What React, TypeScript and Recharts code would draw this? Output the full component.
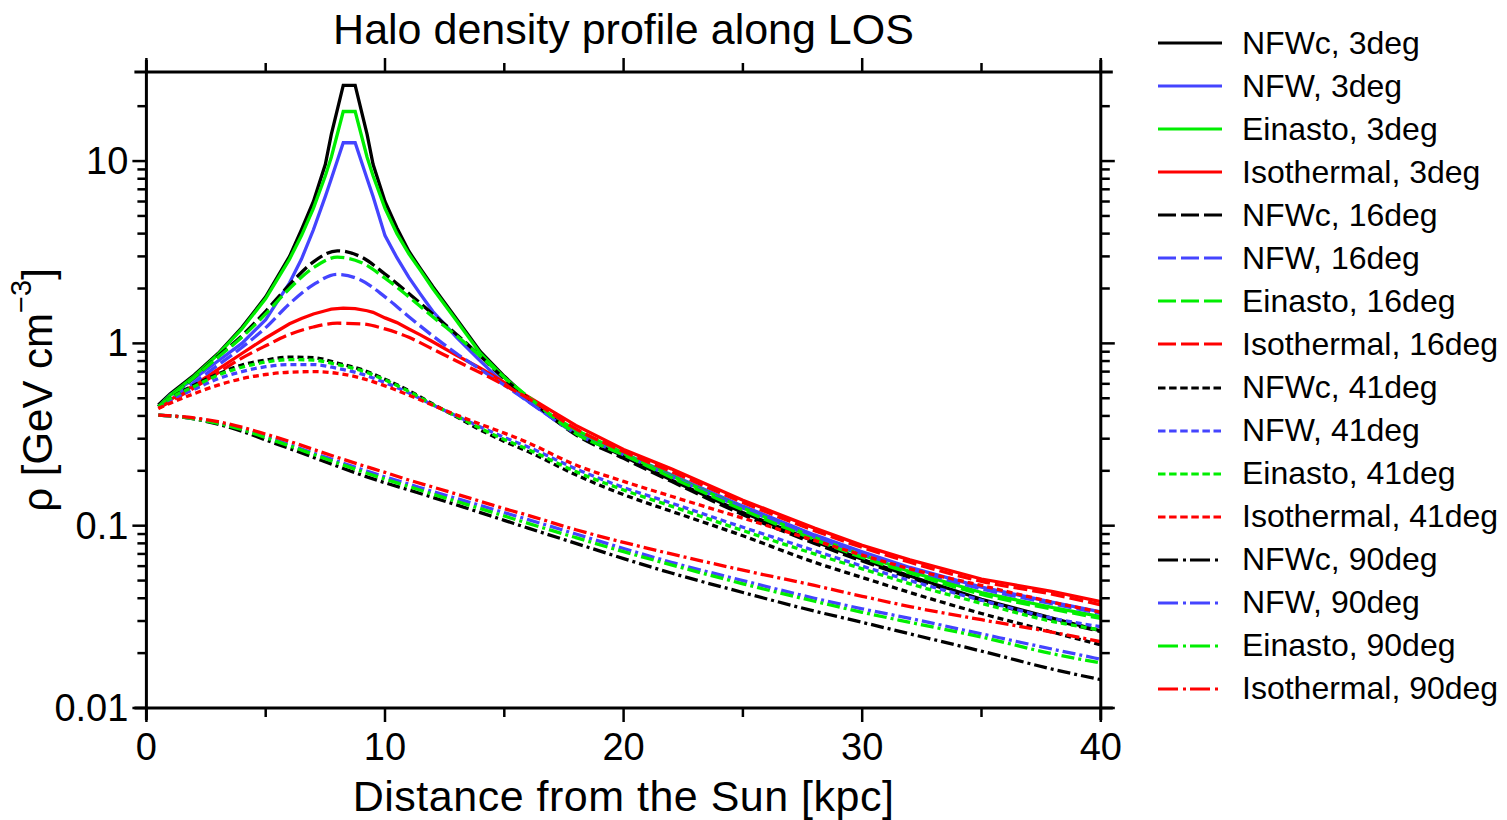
import { LineChart, Line, XAxis, YAxis } from 'recharts';

const FONT = '"Liberation Sans", Arial, sans-serif';

// distances along the line of sight [kpc]
const x3deg = [0.5, 1, 2, 3, 4, 5, 6, 6.5, 7, 7.5, 7.75, 8.25, 8.75, 9.25, 9.5, 10, 10.5, 11, 11.5, 12, 13, 14, 15, 16, 17, 18, 20, 22, 25, 28, 30, 32, 35, 38, 40];
const xWide = [0.5, 1, 2, 3, 4, 5, 6, 7, 8, 9, 10, 11, 12, 13, 14, 15, 16, 18, 20, 22, 25, 28, 30, 32, 35, 38, 40];

// density [GeV cm^-3], 3deg
const nfwc3 = [0.46, 0.53, 0.67, 0.88, 1.22, 1.8, 3.0, 4.2, 6.0, 9.6, 14, 26, 26, 14, 9.6, 6.0, 4.3, 3.2, 2.55, 2.05, 1.36, 0.9, 0.66, 0.5, 0.39, 0.32, 0.24, 0.178, 0.118, 0.082, 0.0655, 0.053, 0.0395, 0.031, 0.0265];
const nfw3 = [0.45, 0.52, 0.64, 0.8, 1.0, 1.35, 2.15, 2.9, 4.2, 6.4, 8.0, 12.6, 12.6, 8.0, 6.4, 3.9, 2.95, 2.3, 1.85, 1.5, 1.08, 0.8, 0.6, 0.48, 0.39, 0.33, 0.25, 0.19, 0.128, 0.089, 0.072, 0.059, 0.046, 0.038, 0.0337];
const ein3 = [0.45, 0.52, 0.66, 0.87, 1.2, 1.76, 2.9, 3.9, 5.5, 8.3, 10.5, 18.7, 18.7, 10.5, 8.3, 5.5, 4.0, 3.1, 2.5, 2.0, 1.33, 0.88, 0.65, 0.5, 0.4, 0.335, 0.25, 0.188, 0.125, 0.086, 0.069, 0.056, 0.043, 0.0355, 0.0317];
const iso3 = [0.45, 0.49, 0.59, 0.72, 0.88, 1.07, 1.28, 1.37, 1.45, 1.51, 1.54, 1.56, 1.55, 1.51, 1.48, 1.38, 1.3, 1.2, 1.11, 1.02, 0.86, 0.73, 0.61, 0.51, 0.425, 0.355, 0.262, 0.205, 0.138, 0.097, 0.078, 0.065, 0.051, 0.0435, 0.0383];

// 16deg
const nfwc16 = [0.45, 0.51, 0.65, 0.85, 1.1, 1.5, 2.1, 2.8, 3.22, 2.98, 2.4, 1.88, 1.45, 1.12, 0.85, 0.64, 0.5, 0.315, 0.234, 0.175, 0.115, 0.08, 0.064, 0.052, 0.039, 0.0305, 0.0262];
const nfw16 = [0.45, 0.5, 0.61, 0.76, 0.95, 1.22, 1.65, 2.1, 2.39, 2.22, 1.8, 1.4, 1.1, 0.88, 0.72, 0.59, 0.48, 0.32, 0.245, 0.186, 0.125, 0.087, 0.07, 0.058, 0.045, 0.0372, 0.033];
const ein16 = [0.45, 0.51, 0.65, 0.84, 1.08, 1.45, 2.0, 2.6, 2.97, 2.78, 2.28, 1.8, 1.4, 1.1, 0.85, 0.65, 0.51, 0.32, 0.245, 0.184, 0.122, 0.084, 0.067, 0.055, 0.042, 0.0348, 0.031];
const iso16 = [0.44, 0.48, 0.57, 0.69, 0.83, 0.97, 1.12, 1.23, 1.29, 1.28, 1.2, 1.08, 0.93, 0.8, 0.69, 0.59, 0.5, 0.34, 0.255, 0.198, 0.134, 0.094, 0.076, 0.063, 0.0495, 0.042, 0.0368];

// 41deg
const nfwc41 = [0.45, 0.5, 0.59, 0.68, 0.76, 0.81, 0.84, 0.835, 0.78, 0.72, 0.635, 0.55, 0.465, 0.395, 0.335, 0.29, 0.255, 0.19, 0.148, 0.12, 0.088, 0.063, 0.052, 0.043, 0.033, 0.026, 0.0222];
const nfw41 = [0.45, 0.49, 0.56, 0.64, 0.7, 0.745, 0.765, 0.765, 0.73, 0.68, 0.61, 0.535, 0.46, 0.4, 0.348, 0.305, 0.27, 0.205, 0.162, 0.133, 0.098, 0.073, 0.06, 0.05, 0.039, 0.031, 0.0279];
const ein41 = [0.45, 0.5, 0.58, 0.67, 0.74, 0.79, 0.815, 0.81, 0.765, 0.71, 0.63, 0.545, 0.462, 0.398, 0.342, 0.297, 0.262, 0.198, 0.157, 0.128, 0.094, 0.07, 0.058, 0.048, 0.0375, 0.0298, 0.0268];
const iso41 = [0.44, 0.47, 0.53, 0.59, 0.64, 0.675, 0.695, 0.7, 0.685, 0.645, 0.585, 0.52, 0.458, 0.405, 0.36, 0.322, 0.285, 0.215, 0.175, 0.145, 0.11, 0.083, 0.069, 0.058, 0.047, 0.038, 0.0335];

// 90deg
const nfwc90 = [0.404, 0.4, 0.385, 0.36, 0.33, 0.295, 0.265, 0.237, 0.212, 0.19, 0.172, 0.157, 0.143, 0.13, 0.118, 0.107, 0.097, 0.08, 0.066, 0.055, 0.043, 0.034, 0.0295, 0.0255, 0.0205, 0.0163, 0.0143];
const nfw90 = [0.404, 0.4, 0.387, 0.367, 0.34, 0.308, 0.278, 0.25, 0.226, 0.204, 0.185, 0.169, 0.154, 0.141, 0.129, 0.118, 0.108, 0.09, 0.075, 0.063, 0.05, 0.04, 0.035, 0.031, 0.0255, 0.021, 0.0185];
const ein90 = [0.404, 0.4, 0.386, 0.364, 0.337, 0.304, 0.274, 0.246, 0.221, 0.199, 0.18, 0.164, 0.149, 0.136, 0.124, 0.113, 0.103, 0.086, 0.072, 0.061, 0.048, 0.0385, 0.0335, 0.0295, 0.0245, 0.0198, 0.0177];
const iso90 = [0.404, 0.401, 0.39, 0.372, 0.347, 0.318, 0.29, 0.262, 0.237, 0.215, 0.196, 0.178, 0.163, 0.149, 0.136, 0.124, 0.114, 0.095, 0.081, 0.07, 0.057, 0.047, 0.041, 0.036, 0.0305, 0.026, 0.0231];

const xTicks = [0, 5, 10, 15, 20, 25, 30, 35, 40];
const xTickLabels = ['0', '', '10', '', '20', '', '30', '', '40'];
const yTicks = [0.01, 0.02, 0.03, 0.04, 0.05, 0.06, 0.07, 0.08, 0.09, 0.1, 0.2, 0.3, 0.4, 0.5, 0.6, 0.7, 0.8, 0.9, 1, 2, 3, 4, 5, 6, 7, 8, 9, 10, 20, 30.8];
const yMajor = [0.01, 0.1, 1, 10];
const yMajorLabels = ['0.01', '0.1', '1', '10'];
const Y_MIN = 0.01;
const Y_MAX = 30.8;

const BLACK = '#000000';
const BLUE = '#4444ff';
const GREEN = '#00ee00';
const RED = '#ff0000';

type Style = 'solid' | 'dashed' | 'dotted' | 'dashdot';
const plotDash: Record<Style, string | undefined> = {
  solid: undefined,
  dashed: '14 5',
  dotted: '6 4',
  dashdot: '13 4 3 4',
};
const legendDash: Record<Style, string | undefined> = {
  solid: undefined,
  dashed: '18 5',
  dotted: '7.5 3.6',
  dashdot: '20 5 3 4',
};

const series = [
  { name: 'NFWc, 3deg', xs: x3deg, ys: nfwc3, color: BLACK, style: 'solid' as Style },
  { name: 'NFW, 3deg', xs: x3deg, ys: nfw3, color: BLUE, style: 'solid' as Style },
  { name: 'Einasto, 3deg', xs: x3deg, ys: ein3, color: GREEN, style: 'solid' as Style },
  { name: 'Isothermal, 3deg', xs: x3deg, ys: iso3, color: RED, style: 'solid' as Style },
  { name: 'NFWc, 16deg', xs: xWide, ys: nfwc16, color: BLACK, style: 'dashed' as Style },
  { name: 'NFW, 16deg', xs: xWide, ys: nfw16, color: BLUE, style: 'dashed' as Style },
  { name: 'Einasto, 16deg', xs: xWide, ys: ein16, color: GREEN, style: 'dashed' as Style },
  { name: 'Isothermal, 16deg', xs: xWide, ys: iso16, color: RED, style: 'dashed' as Style },
  { name: 'NFWc, 41deg', xs: xWide, ys: nfwc41, color: BLACK, style: 'dotted' as Style },
  { name: 'NFW, 41deg', xs: xWide, ys: nfw41, color: BLUE, style: 'dotted' as Style },
  { name: 'Einasto, 41deg', xs: xWide, ys: ein41, color: GREEN, style: 'dotted' as Style },
  { name: 'Isothermal, 41deg', xs: xWide, ys: iso41, color: RED, style: 'dotted' as Style },
  { name: 'NFWc, 90deg', xs: xWide, ys: nfwc90, color: BLACK, style: 'dashdot' as Style },
  { name: 'NFW, 90deg', xs: xWide, ys: nfw90, color: BLUE, style: 'dashdot' as Style },
  { name: 'Einasto, 90deg', xs: xWide, ys: ein90, color: GREEN, style: 'dashdot' as Style },
  { name: 'Isothermal, 90deg', xs: xWide, ys: iso90, color: RED, style: 'dashdot' as Style },
];

const EXT = 12; // frame lines run a little past the corners
const isMajorY = (v: number) => yMajor.some((m) => Math.abs(m - v) < 1e-9);

function BottomTick(props: any) {
  const { x, y, payload } = props;
  const v = payload.value;
  const label = xTickLabels[xTicks.indexOf(v)];
  const major = label !== '';
  return (
    <g>
      <line x1={x} y1={y} x2={x} y2={y + (major ? 14 : 9)} stroke="#000" strokeWidth={2.5} />
      {v === 0 && <line x1={x - EXT} y1={y} x2={x} y2={y} stroke="#000" strokeWidth={3} />}
      {v === 40 && <line x1={x} y1={y} x2={x + EXT} y2={y} stroke="#000" strokeWidth={3} />}
      {major && (
        <text x={x} y={y + 39} textAnchor="middle" dominantBaseline="central" fontSize={38} fontFamily={FONT} fill="#000">
          {label}
        </text>
      )}
    </g>
  );
}

function TopTick(props: any) {
  const { x, y, payload } = props;
  const v = payload.value;
  const major = xTickLabels[xTicks.indexOf(v)] !== '';
  return (
    <g>
      <line x1={x} y1={y} x2={x} y2={y - (major ? 14 : 9)} stroke="#000" strokeWidth={2.5} />
      {v === 0 && <line x1={x - EXT} y1={y} x2={x} y2={y} stroke="#000" strokeWidth={3} />}
      {v === 40 && <line x1={x} y1={y} x2={x + EXT} y2={y} stroke="#000" strokeWidth={3} />}
    </g>
  );
}

function LeftTick(props: any) {
  const { x, y, payload } = props;
  const v = payload.value;
  const major = isMajorY(v);
  const label = major ? yMajorLabels[yMajor.findIndex((m) => Math.abs(m - v) < 1e-9)] : '';
  const isTop = v === Y_MAX;
  return (
    <g>
      {!isTop && <line x1={x} y1={y} x2={x - (major ? 14 : 9)} y2={y} stroke="#000" strokeWidth={2.5} />}
      {v === Y_MIN && <line x1={x} y1={y} x2={x} y2={y + EXT} stroke="#000" strokeWidth={3} />}
      {isTop && <line x1={x} y1={y - EXT} x2={x} y2={y} stroke="#000" strokeWidth={3} />}
      {major && (
        <text x={x - 18} y={y} textAnchor="end" dominantBaseline="central" fontSize={38} fontFamily={FONT} fill="#000">
          {label}
        </text>
      )}
    </g>
  );
}

function RightTick(props: any) {
  const { x, y, payload } = props;
  const v = payload.value;
  const major = isMajorY(v);
  const isTop = v === Y_MAX;
  return (
    <g>
      {!isTop && <line x1={x} y1={y} x2={x + (major ? 14 : 9)} y2={y} stroke="#000" strokeWidth={2.5} />}
      {v === Y_MIN && <line x1={x} y1={y} x2={x} y2={y + EXT} stroke="#000" strokeWidth={3} />}
      {isTop && <line x1={x} y1={y - EXT} x2={x} y2={y} stroke="#000" strokeWidth={3} />}
    </g>
  );
}

function XTitle(props: any) {
  const { viewBox } = props;
  const cx = viewBox.x + viewBox.width / 2;
  return (
    <text
      x={cx}
      y={viewBox.y + 88}
      textAnchor="middle"
      dominantBaseline="central"
      fontSize={43}
      letterSpacing={0.5}
      fontFamily={FONT}
      fill="#000"
    >
      Distance from the Sun [kpc]
    </text>
  );
}

function YTitle(props: any) {
  const { viewBox } = props;
  const cx = viewBox.x - 108;
  const cy = viewBox.y + viewBox.height / 2;
  return (
    <text
      x={cx}
      y={cy}
      transform={`rotate(-90, ${cx}, ${cy})`}
      textAnchor="middle"
      dominantBaseline="central"
      fontSize={42}
      fontFamily={FONT}
      fill="#000"
    >
      ρ [GeV cm
      <tspan dy={-16} fontSize={29}>−3</tspan>
      <tspan dy={16}>]</tspan>
    </text>
  );
}

function LegendBox() {
  return (
    <div style={{ position: 'absolute', left: 1158, top: 21.5, fontFamily: FONT, fontSize: 32, color: '#000' }}>
      {series.map((s) => (
        <div key={s.name} style={{ height: 43.07, display: 'flex', alignItems: 'center', whiteSpace: 'nowrap' }}>
          <svg width={84} height={10} style={{ flex: 'none' }}>
            <line x1={0} y1={5} x2={64} y2={5} stroke={s.color} strokeWidth={3} strokeDasharray={legendDash[s.style]} />
          </svg>
          <span>{s.name}</span>
        </div>
      ))}
    </div>
  );
}

export default function App() {
  return (
    <div style={{ position: 'absolute', left: 0, top: 0, width: 1507, height: 820, background: '#fff' }}>
      <div
        style={{
          position: 'absolute',
          left: 0,
          top: 6,
          width: 1247,
          textAlign: 'center',
          fontFamily: FONT,
          fontSize: 43,
          lineHeight: '46px',
          color: '#000',
        }}
      >
        Halo density profile along LOS
      </div>
      <LineChart width={1507} height={820} margin={{ top: 71, right: 405.2, bottom: 111, left: 145.4 }}>
        <XAxis
          xAxisId="bottom"
          dataKey="x"
          type="number"
          domain={[0, 40]}
          ticks={xTicks}
          interval={0}
          height={1}
          tickSize={0}
          tickMargin={0}
          tickLine={false}
          tick={<BottomTick />}
          axisLine={{ stroke: '#000', strokeWidth: 3 }}
          allowDataOverflow
          label={<XTitle />}
        />
        <XAxis
          xAxisId="top"
          orientation="top"
          dataKey="x"
          type="number"
          domain={[0, 40]}
          ticks={xTicks}
          interval={0}
          height={1}
          tickSize={0}
          tickMargin={0}
          tickLine={false}
          tick={<TopTick />}
          axisLine={{ stroke: '#000', strokeWidth: 3 }}
          allowDataOverflow
        />
        <YAxis
          yAxisId="left"
          scale="log"
          type="number"
          domain={[Y_MIN, Y_MAX]}
          ticks={yTicks}
          interval={0}
          width={1}
          tickSize={0}
          tickMargin={0}
          tickLine={false}
          tick={<LeftTick />}
          axisLine={{ stroke: '#000', strokeWidth: 3 }}
          allowDataOverflow
          label={<YTitle />}
        />
        <YAxis
          yAxisId="right"
          orientation="right"
          scale="log"
          type="number"
          domain={[Y_MIN, Y_MAX]}
          ticks={yTicks}
          interval={0}
          width={1}
          tickSize={0}
          tickMargin={0}
          tickLine={false}
          tick={<RightTick />}
          axisLine={{ stroke: '#000', strokeWidth: 3 }}
          allowDataOverflow
        />
        {series.map((s) => (
          <Line
            key={s.name}
            name={s.name}
            xAxisId="bottom"
            yAxisId="left"
            data={s.xs.map((x, i) => ({ x, y: s.ys[i] }))}
            dataKey="y"
            type={s.style === 'solid' ? 'linear' : 'monotone'}
            stroke={s.color}
            strokeWidth={3.3}
            strokeDasharray={plotDash[s.style]}
            dot={false}
            activeDot={false}
            isAnimationActive={false}
          />
        ))}
      </LineChart>
      <LegendBox />
    </div>
  );
}
